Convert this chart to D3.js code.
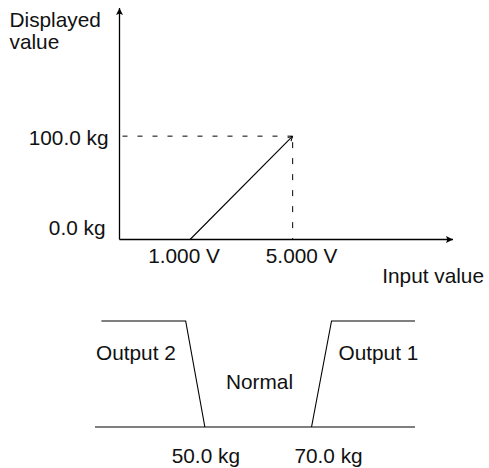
<!DOCTYPE html>
<html>
<head>
<meta charset="utf-8">
<script src="https://cdn.jsdelivr.net/npm/d3@7"></script>
<style>
html,body{margin:0;padding:0;background:#fff;}
svg{display:block;}
text{font-family:"Liberation Sans",Arial,Helvetica,sans-serif;font-size:20.8px;fill:#111;}
</style>
</head>
<body>
<svg id="c" width="489" height="468"></svg>
<script>
// ---- Data ----
// Upper chart: scaling of input voltage to displayed weight
const inputValues = [1.000, 5.000];          // V
const displayValues = [0.0, 100.0];          // kg
const inputTickLabels = ["1.000 V", "5.000 V"];
const displayTickLabels = ["0.0 kg", "100.0 kg"];
const inputAxisRange = [-1.75, 11.25];       // V (extent of drawn axis)
const displayAxisRange = [0, 224];           // kg (extent of drawn axis)

// Lower chart: comparator outputs vs displayed weight
const weightRange = [29.4, 89.4];            // kg (extent of baseline)
const output2Points = [[30.6, 1], [46.4, 1], [50.0, 0]];  // [kg, state]
const output1Points = [[70.0, 0], [73.75, 1], [89.4, 1]];
const setpoints = [50.0, 70.0];
const setpointLabels = ["50.0 kg", "70.0 kg"];
const zoneLabels = ["Output 2", "Normal", "Output 1"];

// ---- Drawing ----
const svg = d3.select("#c");
const defs = svg.append("defs");
defs.append("marker").attr("id","ah").attr("viewBox","0 0 10 10")
  .attr("refX",10).attr("refY",5).attr("markerWidth",10).attr("markerHeight",7)
  .attr("markerUnits","userSpaceOnUse").attr("orient","auto")
  .append("path").attr("d","M0,0L10,5L0,10L2,5Z").attr("fill","#000");
defs.append("marker").attr("id","oa").attr("viewBox","0 0 10 10")
  .attr("refX",10).attr("refY",5).attr("markerWidth",6).attr("markerHeight",6)
  .attr("markerUnits","userSpaceOnUse").attr("orient","auto")
  .append("path").attr("d","M2,1L10,5L2,9").attr("fill","none").attr("stroke","#000").attr("stroke-width",1.6);

const x = d3.scaleLinear().domain(inputAxisRange).range([119.5, 453]);
const y = d3.scaleLinear().domain(displayAxisRange).range([239.5, 8]);

const up = svg.append("g");
// axes
up.append("line").attr("x1",x(inputAxisRange[0])).attr("x2",x(inputAxisRange[1]))
  .attr("y1",y(0)).attr("y2",y(0)).attr("stroke","#000").attr("stroke-width",1.3)
  .attr("marker-end","url(#ah)");
up.append("line").attr("x1",x(inputAxisRange[0])).attr("x2",x(inputAxisRange[0]))
  .attr("y1",y(0)).attr("y2",y(displayAxisRange[1])).attr("stroke","#000").attr("stroke-width",1.3)
  .attr("marker-end","url(#ah)");
// dashed guides
up.append("line").attr("x1",x(inputAxisRange[0])).attr("x2",x(inputValues[1]))
  .attr("y1",y(displayValues[1])).attr("y2",y(displayValues[1]))
  .attr("stroke","#000").attr("stroke-width",1).attr("stroke-dasharray","5,10").attr("stroke-dashoffset",-3);
up.append("line").attr("x1",x(inputValues[1])).attr("x2",x(inputValues[1]))
  .attr("y1",y(displayValues[1])).attr("y2",y(0))
  .attr("stroke","#000").attr("stroke-width",1).attr("stroke-dasharray","6,10").attr("stroke-dashoffset",-6);
// scaling line
const line = d3.line().x(d=>x(d[0])).y(d=>y(d[1]));
up.append("path").datum(inputValues.map((v,i)=>[v,displayValues[i]]))
  .attr("d",line).attr("fill","none").attr("stroke","#000").attr("stroke-width",1.1)
  .attr("marker-end","url(#oa)");
// labels
up.append("text").attr("x",9.5).attr("y",26.7).text("Displayed");
up.append("text").attr("x",9.5).attr("y",49.3).text("value");
const ydx = [-14, -11];
const yBase = [-4.5, 8.5];
displayValues.forEach((v,i)=>{
  up.append("text").attr("x",x(inputAxisRange[0])+ydx[i]).attr("y",y(v)+yBase[i])
    .attr("text-anchor","end").text(displayTickLabels[i]);
});
const xdx = [-6, 9];
inputValues.forEach((v,i)=>{
  up.append("text").attr("x",x(v)+xdx[i]).attr("y",263).attr("text-anchor","middle").text(inputTickLabels[i]);
});
up.append("text").attr("x",484).attr("y",283).attr("text-anchor","end").text("Input value");

// lower chart
const x2 = d3.scaleLinear().domain(weightRange).range([95, 415]);
const s = d3.scaleLinear().domain([0,1]).range([427, 321]);
const lo = svg.append("g");
const line2 = d3.line().x(d=>x2(d[0])).y(d=>s(d[1]));
lo.append("path").datum(weightRange.map(w=>[w,0])).attr("d",line2)
  .attr("fill","none").attr("stroke","#000").attr("stroke-width",1.1);
[output2Points, output1Points].forEach(p=>{
  lo.append("path").datum(p).attr("d",line2).attr("fill","none").attr("stroke","#000").attr("stroke-width",1.1);
});
lo.append("text").attr("x",96).attr("y",360).text(zoneLabels[0]);
lo.append("text").attr("x",226).attr("y",389.3).text(zoneLabels[1]);
lo.append("text").attr("x",338.5).attr("y",360).text(zoneLabels[2]);
const sdx = [1, 17];
setpoints.forEach((v,i)=>{
  lo.append("text").attr("x",x2(v)+sdx[i]).attr("y",463.3).attr("text-anchor","middle").text(setpointLabels[i]);
});
</script>
</body>
</html>
